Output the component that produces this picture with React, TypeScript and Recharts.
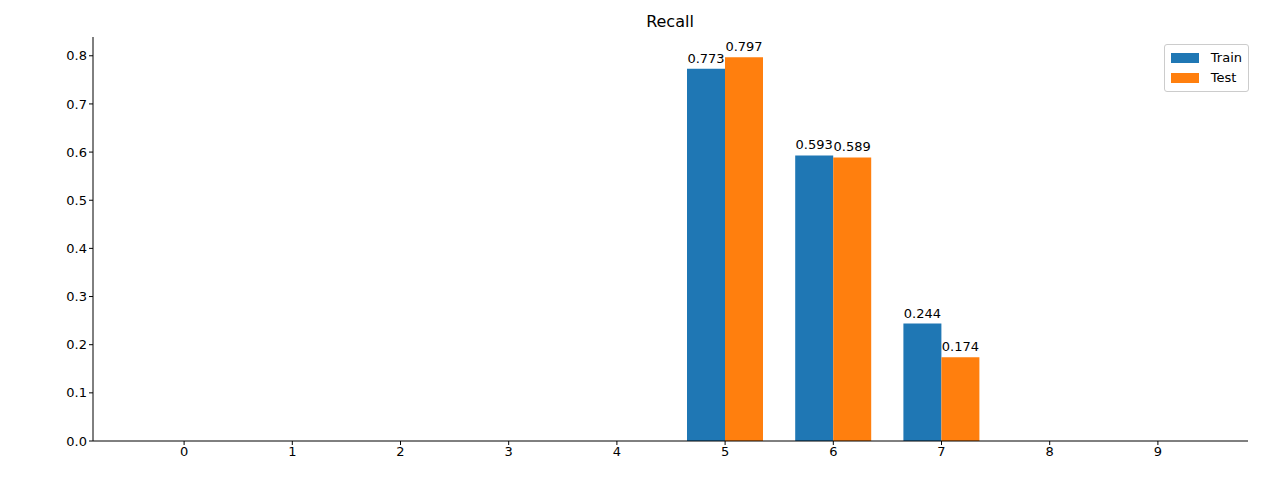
import React from "react";
import { BarChart, Bar, XAxis, YAxis, LabelList } from "recharts";

const categories = ["0","1","2","3","4","5","6","7","8","9"];
const trainValues = [0,0,0,0,0,0.773,0.593,0.244,0,0];
const testValues = [0,0,0,0,0,0.797,0.589,0.174,0,0];
const yTicks = [0,0.1,0.2,0.3,0.4,0.5,0.6,0.7,0.8];

const data = categories.map((c, i) => ({ name: c, Train: trainValues[i], Test: testValues[i] }));
const font = "DejaVu Sans, sans-serif";

const ValueLabel = (props: any) => {
  const { x, y, width, value } = props;
  return (
    <text x={Number(x) + Number(width) / 2} y={Number(y) - 6} textAnchor="middle" fill="#000" fontSize={13} fontFamily={font}>
      {Number(value).toFixed(3)}
    </text>
  );
};

export default function App() {
  return (
    <div style={{ position: "relative", width: 1270, height: 472 }}>
      <div style={{ position: "absolute", left: 0, width: 1324, top: 4, textAlign: "center", fontFamily: font, fontSize: 16 }}>Recall</div>
      <div style={{ position: "absolute", right: 29, top: 36, zIndex: 2, border: "1px solid #ccc", borderRadius: 3, background: "#fff", padding: "3px 6px", fontFamily: font, fontSize: 13, lineHeight: "20px" }}>
        {[["Train", "#1f77b4"], ["Test", "#ff7f0e"]].map(([n, c]) => (
          <div key={n} style={{ display: "flex", alignItems: "center" }}>
            <span style={{ width: 28, height: 10, background: c, display: "inline-block", marginRight: 12 }} />
            {n}
          </div>
        ))}
      </div>
      <BarChart width={1270} height={472} data={data} margin={{ top: 29, right: 30, left: 35, bottom: 9 }} barGap={0} barCategoryGap={16}>
        <XAxis dataKey="name" padding={{ left: 37, right: 36 }} height={30} tickLine={{ stroke: "#000" }} axisLine={{ stroke: "#000" }} tick={{ fill: "#000", fontSize: 13, fontFamily: font }} tickSize={4} />
        <YAxis domain={[0, 0.839]} ticks={yTicks} width={50} tickFormatter={(v) => v.toFixed(1)} tickLine={{ stroke: "#000" }} axisLine={{ stroke: "#000" }} tick={{ fill: "#000", fontSize: 13, fontFamily: font }} tickSize={4} allowDataOverflow />
        <Bar dataKey="Train" fill="#1f77b4" isAnimationActive={false} minPointSize={0}>
          <LabelList dataKey="Train" content={ValueLabel} />
        </Bar>
        <Bar dataKey="Test" fill="#ff7f0e" isAnimationActive={false} minPointSize={0}>
          <LabelList dataKey="Test" content={ValueLabel} />
        </Bar>
      </BarChart>
    </div>
  );
}
